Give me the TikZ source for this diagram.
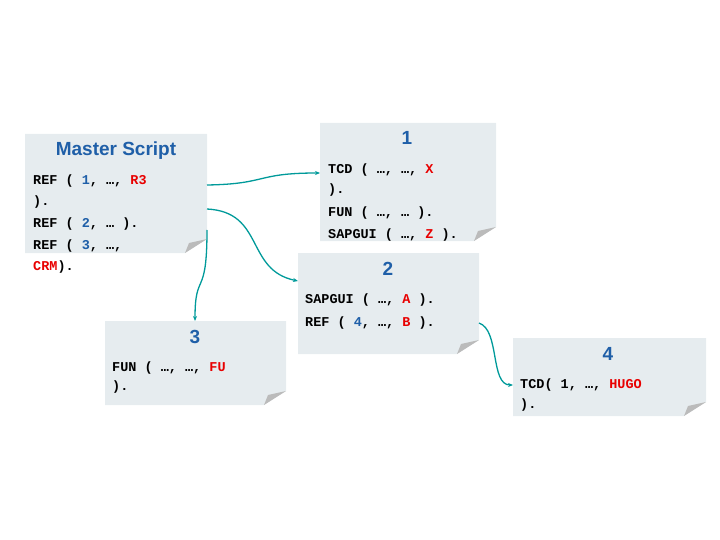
\documentclass[tikz,border=0pt]{standalone}
\usepackage{fontspec}
\setmainfont{Liberation Sans}
\newfontfamily\codefont{Liberation Mono}
\usetikzlibrary{arrows.meta}
\definecolor{tblue}{HTML}{1F5FA8}
\definecolor{tred}{HTML}{E80000}
\definecolor{tteal}{HTML}{009A9A}
\definecolor{tfill}{HTML}{E6ECEF}
\definecolor{tfold}{HTML}{BBBBBB}
\newcommand{\R}[1]{\textcolor{tred}{#1}}
\newcommand{\B}[1]{\textcolor{tblue}{#1}}
\begin{document}
\begin{tikzpicture}[x=1pt,y=-1pt,
  code/.style={anchor=west,inner sep=0pt,font=\codefont\bfseries\fontsize{13.5}{14}\selectfont},
  ttl/.style={inner sep=0pt,text=tblue,font=\bfseries\fontsize{19}{20}\selectfont},
  conn/.style={tteal,line width=1.3pt,-{Stealth[length=5pt,width=4pt]}}]
\useasboundingbox (0,0) rectangle (720,540);
\newcommand{\note}[5]{% name, x1,y1,x2,y2
  \fill[tfill] (#2,#3) -- (#4,#3) -- (#4,#5-14) -- (#4-22,#5) -- (#2,#5) -- cycle;
  \fill[tfold] (#4,#5-14) -- (#4-22,#5) -- (#4-18,#5-10) -- cycle;
  \coordinate (#1) at (#2,#3);}
\note{m}{25}{134}{207}{253}
\note{n1}{320}{123}{496}{241}
\note{n2}{298}{253}{479}{354}
\note{n3}{105}{321}{286}{405}
\note{n4}{513}{338}{706}{416}
% master
\node[ttl] (mt) at (116,151) {Master Script};
\node[code] (m1) at (33,181) {REF ( \B{1}, …, \R{R3}};
\node[code] (m2) at (33,202) {).};
\node[code] (m3) at (33,224) {REF ( \B{2}, … ).};
\node[code] (m4) at (33,246) {REF ( \B{3}, …,};
\node[code] (m5) at (33,267) {\R{CRM}).};
% 1
\node[ttl] (t1) at (407,138) {1};
\node[code] (a1) at (328,170) {TCD ( …, …, \R{X}};
\node[code] (a2) at (328,190) {).};
\node[code] (a3) at (328,213) {FUN ( …, … ).};
\node[code] (a4) at (328,235) {SAPGUI ( …, \R{Z} ).};
% 2
\node[ttl] (t2) at (388,269) {2};
\node[code] (b1) at (305,300) {SAPGUI ( …, \R{A} ).};
\node[code] (b2) at (305,323) {REF ( \B{4}, …, \R{B} ).};
% 3
\node[ttl] (t3) at (195,337) {3};
\node[code] (c1) at (112,368) {FUN ( …, …, \R{FU}};
\node[code] (c2) at (112,387) {).};
% 4
\node[ttl] (t4) at (608,354) {4};
\node[code] (d1) at (520,385) {TCD( 1, …, \R{HUGO}};
\node[code] (d2) at (520,405) {).};
% connectors
\coordinate (sA) at (207,185); \coordinate (eA) at (320,173);
\coordinate (sB) at (207,209); \coordinate (eB) at (298,281);
\coordinate (sC) at (207,230); \coordinate (eC) at (195,321);
\coordinate (sD) at (479,323); \coordinate (eD) at (513,385);
\draw[conn] (sA) .. controls (268,184) and (255,173) .. (eA);
\draw[conn] (sB) .. controls (265,212) and (245,270) .. (eB);
\draw[conn] (sC) .. controls (207,300) and (195,270) .. (eC);
\draw[conn] (sD) .. controls (500,330) and (490,385) .. (eD);
\end{tikzpicture}
\end{document}
